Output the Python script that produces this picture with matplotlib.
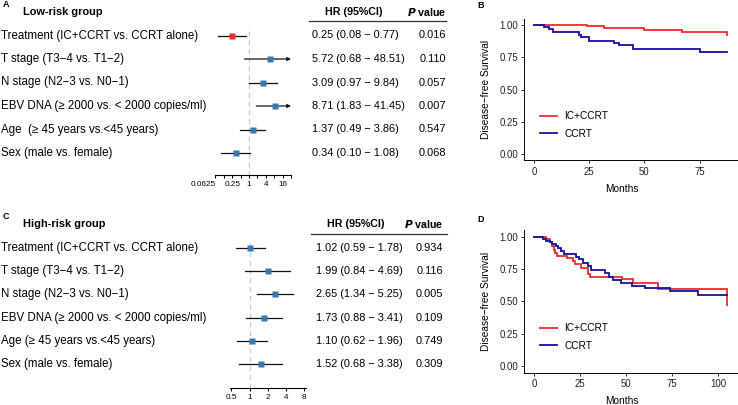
import numpy as np
import matplotlib.pyplot as plt
from matplotlib.transforms import blended_transform_factory

plt.rcParams['font.family'] = ['Liberation Sans', 'DejaVu Sans']

W, H = 738, 405

# ---- forest plot data ----
factors_low = ["Treatment (IC+CCRT vs. CCRT alone)", "T stage (T3\u22124 vs. T1\u22122)",
               "N stage (N2\u22123 vs. N0\u22121)", "EBV DNA (\u2265 2000 vs. < 2000 copies/ml)",
               "Age  (\u2265 45 years vs.<45 years)", "Sex (male vs. female)"]
hr_low = [0.25, 5.72, 3.09, 8.71, 1.37, 0.34]
lo_low = [0.08, 0.68, 0.97, 1.83, 0.49, 0.10]
hi_low = [0.77, 48.51, 9.84, 41.45, 3.86, 1.08]
p_low = ["0.016", "0.110", "0.057", "0.007", "0.547", "0.068"]

factors_high = ["Treatment (IC+CCRT vs. CCRT alone)", "T stage (T3\u22124 vs. T1\u22122)",
                "N stage (N2\u22123 vs. N0\u22121)", "EBV DNA (\u2265 2000 vs. < 2000 copies/ml)",
                "Age (\u2265 45 years vs.<45 years)", "Sex (male vs. female)"]
hr_high = [1.02, 1.99, 2.65, 1.73, 1.10, 1.52]
lo_high = [0.59, 0.84, 1.34, 0.88, 0.62, 0.68]
hi_high = [1.78, 4.69, 5.25, 3.41, 1.96, 3.38]
p_high = ["0.934", "0.116", "0.005", "0.109", "0.749", "0.309"]

ticks_low = [0.0625, 0.25, 1, 4, 16]
ticks_high = [0.5, 1, 2, 4, 8]

# ---- Kaplan-Meier step data (months, survival after step) ----
b_ic_t = [0, 23.8, 31.7, 49.9, 67.2, 87.6]
b_ic_s = [1.0, 0.99, 0.975, 0.96, 0.943, 0.925]
b_cc_t = [0, 4.4, 6.7, 8.6, 20.3, 21.1, 24.9, 36.2, 38.5, 45.0, 75.3, 87.6]
b_cc_s = [1.0, 0.987, 0.972, 0.946, 0.922, 0.904, 0.879, 0.863, 0.842, 0.814, 0.788, 0.788]

d_ic_t = [0, 6.7, 8.9, 9.8, 10.9, 11.4, 12.5, 18.1, 21.2, 22.1, 25.7, 29.4, 30.6, 48.0, 53.8, 67.2, 105.0, 105.0]
d_ic_s = [1.0, 0.982, 0.956, 0.93, 0.897, 0.871, 0.851, 0.833, 0.815, 0.786, 0.76, 0.709, 0.691, 0.673, 0.645, 0.594, 0.594, 0.47]
d_cc_t = [0, 5.0, 6.4, 8.5, 10.0, 12.2, 13.0, 14.9, 16.3, 23.0, 24.5, 26.6, 29.3, 31.0, 38.4, 40.8, 43.0, 47.5,
          53.0, 60.2, 73.8, 89.3, 105.0]
d_cc_s = [1.0, 0.985, 0.97, 0.955, 0.94, 0.925, 0.91, 0.889, 0.864, 0.846, 0.825, 0.80, 0.77, 0.74, 0.717, 0.69,
          0.665, 0.64, 0.62, 0.605, 0.582, 0.548, 0.548]

RED = "#F22B2B"
BLUE = "#12129E"
SQ = "#3B78AE"

fig = plt.figure(figsize=(W / 100, H / 100), dpi=100)


def px_axes(l, t, r, b):
    return fig.add_axes([l / W, 1 - b / H, (r - l) / W, (b - t) / H])


def forest(rect, y0, dy, factors, hr, lo, hi, pv, ticks, xlim, title, letter,
           hr_x, p_x, head_x, line_x, sq_colors):
    l, t, r, b = rect
    ax = px_axes(l, t, r, b)
    ax.set_xscale('log', base=2)
    ax.set_xlim(*xlim)
    ax.set_ylim((b - y0) / dy, (t - y0) / dy)
    for s in ['top', 'right', 'left']:
        ax.spines[s].set_visible(False)
    ax.spines['bottom'].set_linewidth(0.8)
    ax.set_yticks([])
    allt = 2.0 ** np.arange(np.round(np.log2(xlim[0])), np.round(np.log2(xlim[1])) + 1)
    ax.set_xticks(allt)
    ax.set_xticklabels([("%g" % v if v in ticks else "") for v in allt], fontsize=5.9)
    ax.xaxis.set_minor_locator(plt.NullLocator())
    ax.tick_params(axis='x', length=2.5, width=0.8, pad=1.5)
    ax.plot([1, 1], [-0.2, (b - y0) / dy], ls=(0, (4, 3)), lw=0.9, color='#C8C8C8', zorder=1)
    tr = blended_transform_factory(fig.transFigure, ax.transData)
    for i in range(len(factors)):
        if hi[i] > xlim[1]:
            ax.annotate('', xy=(xlim[1], i), xytext=(lo[i], i),
                        arrowprops=dict(arrowstyle='-|>', lw=0.9, color='#111111',
                                        mutation_scale=5, shrinkA=0, shrinkB=0))
        else:
            ax.plot([lo[i], hi[i]], [i, i], color='#111111', lw=0.9, zorder=2)
        ax.plot(hr[i], i, marker='s', ms=4.3, color=sq_colors[i], mec='none', zorder=3)
        ax.text(1 / W, i, factors[i], transform=tr, fontsize=8.3, va='center', ha='left')
        ax.text(hr_x / W, i, "%.2f (%.2f \u2212 %.2f)" % (hr[i], lo[i], hi[i]),
                transform=tr, fontsize=7.9, va='center', ha='left')
        ax.text(p_x / W, i, pv[i], transform=tr, fontsize=7.9, va='center', ha='right')
    # headers
    hy = -1.02
    ax.text(head_x / W, hy, "HR (95%CI)", transform=tr, fontsize=7.7, fontweight='bold',
            va='center', ha='center')
    ax.text(p_x / W, hy, r"$\bfit{P}$" + " value", transform=tr, fontsize=7.7, fontweight='bold',
            va='center', ha='right')
    ax.plot([line_x[0] / W, line_x[1] / W], [-0.6, -0.6], transform=tr, color='#333333',
            lw=0.9, clip_on=False)
    ax.text(23 / W, hy, title, transform=tr, fontsize=7.9, fontweight='bold', va='center', ha='left')
    ax.text(3 / W, hy - 0.3, letter, transform=tr, fontsize=6.5, fontweight='bold', va='center', ha='left')
    # edge tick label kept clear of its neighbour, as in the original
    labs = [lb for lb in ax.get_xticklabels() if lb.get_text()]
    if labs and labs[0].get_text() == "0.0625":
        labs[0].set_ha('right')
        labs[0].set_x(labs[0].get_position()[0])
    return ax


forest((215.4, 28.5, 291, 175), 35.5, 23.5, factors_low, hr_low, lo_low, hi_low, p_low,
       ticks_low, (2.0 ** -4, 2.0 ** 5), "Low-risk group", "A", 311.7, 446.5, 354, (309, 446),
       [RED] + [SQ] * 5)
forest((229.5, 240, 306, 388), 247.7, 23.3, factors_high, hr_high, lo_high, hi_high, p_high,
       ticks_high, (2.0 ** -1.1, 2.0 ** 3.1), "High-risk group", "C", 316, 443.5, 356, (311, 447),
       [SQ] * 6)


def km(rect, t_ic, s_ic, t_cc, s_cc, xticks, letter, letter_y):
    l, t, r, b = rect
    ax = px_axes(l, t, r, b)
    tmax = max(t_ic[-1], t_cc[-1])
    ax.step(t_ic, s_ic, where='post', color=RED, lw=1.3, label="IC+CCRT", solid_joinstyle='miter')
    ax.step(t_cc, s_cc, where='post', color=BLUE, lw=1.3, label="CCRT", solid_joinstyle='miter')
    ax.set_xlim(-0.05 * tmax, 1.05 * tmax)
    ax.set_ylim(-0.05, 1.05)
    ax.set_xticks(xticks)
    ax.set_yticks([0, 0.25, 0.5, 0.75, 1.0])
    ax.set_yticklabels(["0.00", "0.25", "0.50", "0.75", "1.00"])
    for s in ['top', 'right']:
        ax.spines[s].set_visible(False)
    for s in ['left', 'bottom']:
        ax.spines[s].set_linewidth(0.7)
    ax.tick_params(labelsize=6.9, length=2.5, width=0.7, pad=2, colors='#222222')
    ax.set_xlabel("Months", fontsize=7.3)
    ax.set_ylabel("Disease\u2212free Survival", fontsize=7.3)
    ax.xaxis.set_label_coords((622 - l) / (r - l), -0.165)
    ax.yaxis.set_label_coords((491 - l) / (r - l), 0.5)
    ax.legend(loc='center left', bbox_to_anchor=(0.03, 0.25), frameon=False, fontsize=7.3,
              handlelength=1.7, handletextpad=0.7, labelspacing=0.75)
    fig.text(477 / W, 1 - letter_y / H, letter, fontsize=6.5, fontweight='bold', va='center')
    return ax


km((524.3, 18.55, 737, 160.45), b_ic_t, b_ic_s, b_cc_t, b_cc_s, [0, 25, 50, 75], "B", 6)
km((524.3, 230.2, 737, 372.5), d_ic_t, d_ic_s, d_cc_t, d_cc_s, [0, 25, 50, 75, 100], "D", 220)

plt.savefig("out.png", dpi=100)
